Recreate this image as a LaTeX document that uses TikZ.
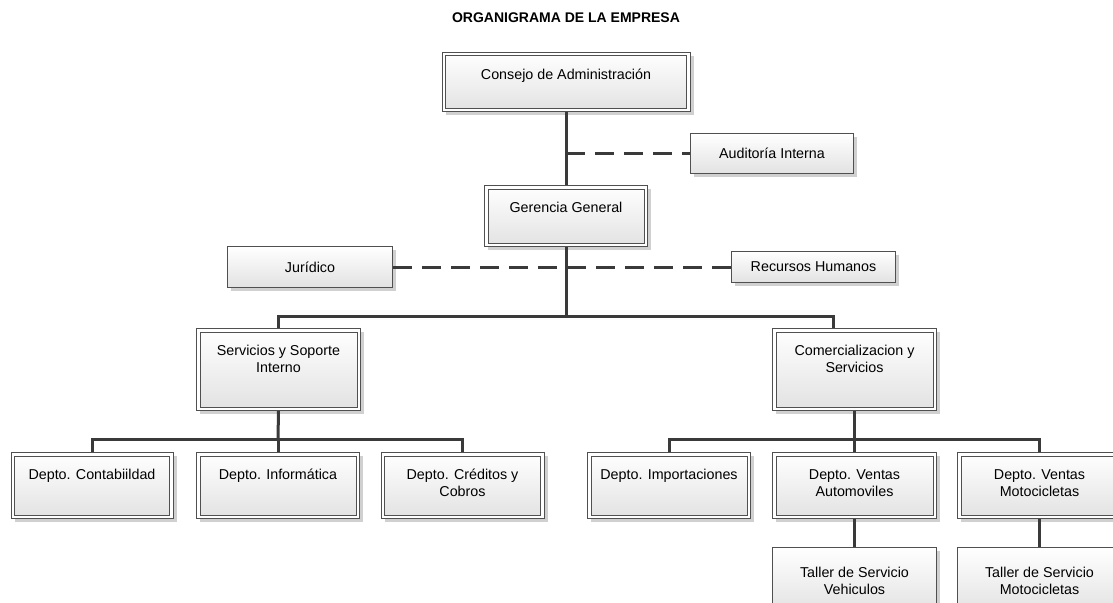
\documentclass[tikz,border=0pt]{standalone}
\usepackage{fontspec}
\setmainfont{Liberation Sans}
\usetikzlibrary{shadows,calc}
\definecolor{linec}{HTML}{3A3A3A}
\definecolor{borderc}{HTML}{505050}
\definecolor{boxbot}{HTML}{E2E2E2}
\definecolor{shadowc}{HTML}{D0D0D0}
\newcommand\boxfont{\fontsize{14.3}{17}\selectfont}
\tikzset{
  conn/.style={draw=linec, line width=3pt},
  dconn/.style={draw=linec, line width=3pt, dash pattern=on 19pt off 10pt},
  boxbase/.style={rectangle,
    drop shadow={shadow xshift=3.5pt, shadow yshift=-3.5pt, fill=shadowc, opacity=1},
    inner sep=0pt, font=\boxfont, align=center, draw=borderc, line width=1pt},
  dbox/.style={boxbase, fill=white,
    path picture={
      \shade[top color=white, bottom color=boxbot]
        ([shift={(3.5pt,-3.5pt)}]path picture bounding box.north west) rectangle
        ([shift={(-3.5pt,3.5pt)}]path picture bounding box.south east);
      \draw[borderc, line width=1pt]
        ([shift={(3.5pt,-3.5pt)}]path picture bounding box.north west) rectangle
        ([shift={(-3.5pt,3.5pt)}]path picture bounding box.south east);
    }},
  sbox/.style={boxbase, top color=white, bottom color=boxbot},
  lbl/.style={font=\boxfont, align=center, anchor=north, inner sep=0pt},
}
\begin{document}
\begin{tikzpicture}[x=1pt,y=-1pt]
\useasboundingbox (0,0) rectangle (1113,602);
\clip (0,0) rectangle (1113,602);
\fill[white] (0,0) rectangle (1113,602);

\node[font=\bfseries\fontsize{14}{17}\selectfont] (title) at (566,18) {ORGANIGRAMA DE LA EMPRESA};

% double-bordered boxes
\node[dbox, minimum width=248, minimum height=59] (consejo) at (566,82) {};
\node[dbox, minimum width=163, minimum height=61] (gerencia) at (566,216) {};
\node[dbox, minimum width=164, minimum height=82] (serv) at (278.5,369.5) {};
\node[dbox, minimum width=164, minimum height=82] (comer) at (854.5,369.5) {};
\node[dbox, minimum width=162, minimum height=66] (contab) at (92,485.5) {};
\node[dbox, minimum width=163, minimum height=66] (inform) at (278,485.5) {};
\node[dbox, minimum width=163, minimum height=66] (cred) at (462.5,485.5) {};
\node[dbox, minimum width=163, minimum height=66] (impor) at (669,485.5) {};
\node[dbox, minimum width=164, minimum height=66] (vauto) at (854.5,485.5) {};
\node[dbox, minimum width=164, minimum height=66] (vmoto) at (1039.5,485.5) {};

% labels of double boxes
\node[lbl] (tconsejo) at ([yshift=-13pt]consejo.north) {\rule{0pt}{14pt}Consejo de Administración};
\node[lbl] (tgerencia) at ([yshift=-13pt]gerencia.north) {\rule{0pt}{14pt}Gerencia General};
\node[lbl] (tserv) at ([yshift=-13pt]serv.north) {\rule{0pt}{14pt}Servicios y Soporte\\Interno};
\node[lbl] (tcomer) at ([yshift=-13pt]comer.north) {\rule{0pt}{14pt}Comercializacion y\\Servicios};
\node[lbl] (tcontab) at ([yshift=-13pt]contab.north) {\rule{0pt}{14pt}Depto. Contabiildad};
\node[lbl] (tinform) at ([yshift=-13pt]inform.north) {\rule{0pt}{14pt}Depto. Informática};
\node[lbl] (tcred) at ([yshift=-13pt]cred.north) {\rule{0pt}{14pt}Depto. Créditos y\\Cobros};
\node[lbl] (timpor) at ([yshift=-13pt]impor.north) {\rule{0pt}{14pt}Depto. Importaciones};
\node[lbl] (tvauto) at ([yshift=-13pt]vauto.north) {\rule{0pt}{14pt}Depto. Ventas\\Automoviles};
\node[lbl] (tvmoto) at ([yshift=-13pt]vmoto.north) {\rule{0pt}{14pt}Depto. Ventas\\Motocicletas};

% single-bordered boxes
\node[sbox, minimum width=163, minimum height=40] (audit) at (772,153.5) {Auditoría Interna};
\node[sbox, minimum width=165, minimum height=41] (jur) at (310,267) {Jurídico};
\node[sbox, minimum width=164, minimum height=31] (rrhh) at (813.5,267) {Recursos Humanos};
\node[sbox, minimum width=164, minimum height=66] (tallerv) at (854.5,580.5) {Taller de Servicio\\Vehiculos};
\node[sbox, minimum width=164, minimum height=66] (tallerm) at (1039.5,580.5) {Taller de Servicio\\Motocicletas};

% connectors
\draw[conn] (consejo.south) -- (gerencia.north);
\draw[dconn] (audit.west -| consejo.south) -- (audit.west);
\draw[dconn] (jur.east) -- (rrhh.west);

\coordinate (busA) at (566,316);
\draw[conn] (gerencia.south) -- (busA);
\draw[conn] (serv.north) |- (busA);
\draw[conn] (busA) -| ([xshift=-21.5pt]comer.north);

\coordinate (busL) at (278,439);
\draw[conn] (serv.south) -- (busL);
\draw[conn] (contab.north) |- (busL) -| (cred.north);
\draw[conn] (busL) -- (inform.north);

\coordinate (busR) at (854.5,439);
\draw[conn] (comer.south) -- (busR);
\draw[conn] (impor.north) |- (busR) -| (vmoto.north);
\draw[conn] (busR) -- (vauto.north);

\draw[conn] (vauto.south) -- (tallerv.north);
\draw[conn] (vmoto.south) -- (tallerm.north);
\end{tikzpicture}
\end{document}
